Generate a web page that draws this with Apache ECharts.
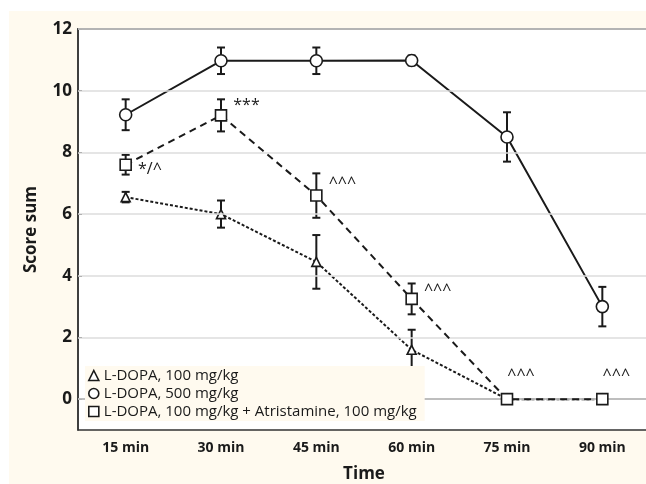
<!DOCTYPE html>
<html>
<head>
<meta charset="utf-8">
<script src="https://cdn.jsdelivr.net/npm/echarts@6/dist/echarts.min.js"></script>
<style>
  html, body { margin: 0; padding: 0; background: #fff; }
  #wrap { position: relative; width: 646px; height: 484px; overflow: hidden; }
  #paper { position: absolute; left: 9px; top: 11px; right: 0; bottom: 0; background: #fffaef; }
  #chart { position: absolute; left: 0; top: 0; width: 646px; height: 484px; }
</style>
</head>
<body>
<div id="wrap"><div id="paper"></div><div id="chart"></div></div>
<script>
// ── 資料 ──────────────────────────────
var times = ["15 min", "30 min", "45 min", "60 min", "75 min", "90 min"];
var yTicks = [0, 2, 4, 6, 8, 10, 12];

var triName = "L-DOPA, 100 mg/kg";
var triMean = [6.55, 6.0, 4.45, 1.6, 0, 0];
var triErr  = [0.17, 0.44, 0.87, 0.65, 0, 0];

var circName = "L-DOPA, 500 mg/kg";
var circMean = [9.22, 10.97, 10.97, 10.98, 8.5, 3.0];
var circErr  = [0.5, 0.43, 0.43, 0.16, 0.8, 0.64];

var sqName = "L-DOPA, 100 mg/kg + Atristamine, 100 mg/kg";
var sqMean = [7.6, 9.2, 6.6, 3.25, 0, 0];
var sqErr  = [0.32, 0.52, 0.72, 0.5, 0, 0];
var sqMarks = ["*/^", "***", "^^^", "^^^", "^^^", "^^^"];

var FONT = "'Open Sans', sans-serif";
var INK = "#1a1a1a";

(function () {
  "use strict";

  function errData(mean, err) {
    return mean.map(function (m, i) { return [i, m - err[i], m + err[i]]; });
  }

  // 誤差棒：直線 + 上下短橫
  function errBar(params, api) {
    var lo = api.coord([api.value(0), api.value(1)]);
    var hi = api.coord([api.value(0), api.value(2)]);
    if (Math.abs(hi[1] - lo[1]) < 1) return null;
    var w = 4, st = { stroke: INK, lineWidth: 2 };
    return {
      type: "group",
      children: [
        { type: "line", shape: { x1: hi[0], y1: hi[1], x2: lo[0], y2: lo[1] }, style: st },
        { type: "line", shape: { x1: hi[0] - w, y1: hi[1], x2: hi[0] + w, y2: hi[1] }, style: st },
        { type: "line", shape: { x1: lo[0] - w, y1: lo[1], x2: lo[0] + w, y2: lo[1] }, style: st }
      ]
    };
  }

  function errSeries(mean, err) {
    return { type: "custom", renderItem: errBar, data: errData(mean, err), z: 3, silent: true,
             encode: { x: 0, y: [1, 2] } };
  }

  var hollow = { color: "#fff", borderColor: INK, borderWidth: 1.6 };

  // 註記標籤位置（方形序列）
  var markPos = [
    { position: "right", offset: [1, 5] },
    { position: "right", offset: [1, -10] },
    { position: "right", offset: [1, -12] },
    { position: "right", offset: [1, -8] },
    { position: "top", offset: [14, -4] },
    { position: "top", offset: [14, -4] }
  ];
  var sqData = sqMean.map(function (v, i) {
    return {
      value: v,
      label: Object.assign({ show: true, formatter: sqMarks[i], color: INK, fontSize: 16,
                             fontFamily: FONT }, markPos[i])
    };
  });

  var chart = echarts.init(document.getElementById("chart"), null, { renderer: "canvas" });
  chart.setOption({
    backgroundColor: "transparent",
    animation: false,
    textStyle: { fontFamily: FONT },
    grid: { left: 78, top: 29, width: 572, height: 401, outerBoundsMode: "none", containLabel: false,
            show: true, backgroundColor: "#fff", borderColor: "#333", borderWidth: 1.5 },
    legend: {
      orient: "vertical", left: 85, top: 366, padding: [2, 8, 2, 3], itemGap: 3, z: 20,
      itemWidth: 10, itemHeight: 10, backgroundColor: "#fffaef",
      textStyle: { color: INK, fontSize: 15, fontFamily: FONT },
      data: [
        { name: triName, icon: "triangle", itemStyle: hollow },
        { name: circName, icon: "circle", itemStyle: hollow },
        { name: sqName, icon: "rect", itemStyle: hollow }
      ]
    },
    xAxis: [{
      type: "category", data: times, boundaryGap: true,
      name: "Time", nameLocation: "middle", nameGap: 36,
      nameTextStyle: { color: INK, fontSize: 17, fontWeight: "bold", fontFamily: FONT },
      axisLine: { lineStyle: { color: "#333", width: 1.5 } },
      axisTick: { inside: true, length: 4, alignWithLabel: true, lineStyle: { color: "#333" } },
      axisLabel: { color: INK, fontSize: 14, fontWeight: "bold", margin: 11, fontFamily: FONT },
      splitLine: { show: false }
    }, {
      type: "category", data: times, boundaryGap: true, position: "top",
      axisLine: { lineStyle: { color: "#333", width: 1.5 } },
      axisTick: { inside: true, length: 4, alignWithLabel: true, lineStyle: { color: "#333" } },
      axisLabel: { show: false }, splitLine: { show: false }
    }],
    yAxis: {
      type: "value", min: -1, max: 12,
      name: "Score sum", nameLocation: "middle", nameGap: 38,
      nameTextStyle: { color: INK, fontSize: 17, fontWeight: "bold", fontFamily: FONT },
      axisLine: { show: true, lineStyle: { color: "#333", width: 1.5 } },
      axisTick: { show: true, inside: true, length: 4, customValues: yTicks, lineStyle: { color: "#333" } },
      axisLabel: { color: INK, fontSize: 17, fontWeight: "bold", margin: 6, customValues: yTicks, fontFamily: FONT },
      splitLine: { show: false }
    },
    series: [
      { // 格線
        name: "_grid", type: "line", data: [], silent: true, z: 1,
        markLine: { silent: true, symbol: "none", label: { show: false },
                    lineStyle: { color: "#dcdcdc", type: "solid", width: 1.5 },
                    data: yTicks.map(function (v) { return { yAxis: v }; }) }
      },
      errSeries(triMean, triErr),
      errSeries(circMean, circErr),
      errSeries(sqMean, sqErr),
      { name: triName, type: "line", data: triMean, z: 4, symbol: "triangle", symbolSize: 9,
        itemStyle: hollow, lineStyle: { color: INK, width: 2, type: [3, 2] } },
      { name: circName, type: "line", data: circMean, z: 4, symbol: "circle", symbolSize: 12,
        itemStyle: hollow, lineStyle: { color: INK, width: 2 } },
      { name: sqName, type: "line", data: sqData, z: 5, symbol: "rect", symbolSize: 11,
        itemStyle: hollow, lineStyle: { color: INK, width: 2, type: [7, 5] } }
    ]
  });
})();
</script>
</body>
</html>
